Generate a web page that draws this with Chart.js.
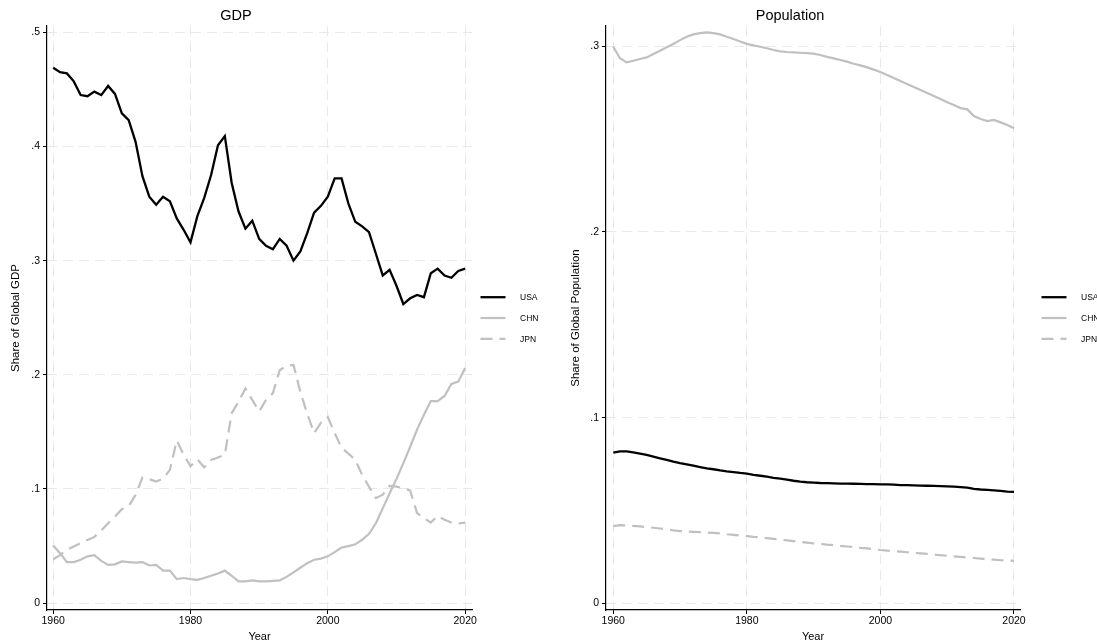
<!DOCTYPE html>
<html>
<head>
<meta charset="utf-8">
<script src="https://cdn.jsdelivr.net/npm/chart.js@4"></script>
<style>
  body { margin: 0; background: #fff; overflow: hidden; }
  #wrap { position: relative; width: 1097px; height: 641px; overflow: hidden; }
  canvas { position: absolute; top: 0; }
</style>
</head>
<body>
<div id="wrap">
  <canvas id="gdpChart" width="560" height="650" style="left:0"></canvas>
  <canvas id="popChart" width="537" height="650" style="left:560px"></canvas>
</div>
<script>
const years = [1960,1961,1962,1963,1964,1965,1966,1967,1968,1969,
  1970,1971,1972,1973,1974,1975,1976,1977,1978,1979,
  1980,1981,1982,1983,1984,1985,1986,1987,1988,1989,
  1990,1991,1992,1993,1994,1995,1996,1997,1998,1999,
  2000,2001,2002,2003,2004,2005,2006,2007,2008,2009,
  2010,2011,2012,2013,2014,2015,2016,2017,2018,2019,2020];

const countries = ['USA', 'CHN', 'JPN'];

// share of global GDP
const gdpUSA = [0.469,0.465,0.464,0.457,0.445,0.444,0.448,0.445,0.453,0.446,
  0.429,0.423,0.404,0.374,0.356,0.349,0.356,0.352,0.337,0.327,
  0.316,0.339,0.355,0.375,0.401,0.409,0.368,0.343,0.328,0.335,
  0.319,0.313,0.310,0.319,0.313,0.300,0.308,0.324,0.342,0.348,
  0.356,0.372,0.372,0.350,0.334,0.330,0.325,0.306,0.287,0.292,
  0.278,0.262,0.267,0.270,0.268,0.289,0.293,0.287,0.285,0.291,0.293];
const gdpCHN = [0.0505,0.0438,0.036,0.036,0.038,0.041,0.042,0.037,0.0335,0.034,
  0.0365,0.036,0.0355,0.036,0.033,0.0335,0.0285,0.0285,0.021,0.022,
  0.021,0.0204,0.022,0.024,0.026,0.0285,0.024,0.019,0.019,0.020,
  0.019,0.019,0.0195,0.020,0.023,0.027,0.031,0.035,0.038,0.039,
  0.041,0.0447,0.0487,0.050,0.0515,0.0555,0.0607,0.070,0.083,0.0963,
  0.1086,0.1226,0.137,0.152,0.165,0.177,0.177,0.1815,0.192,0.194,0.206];
const gdpJPN = [0.0385,0.042,0.0467,0.0496,0.0525,0.0554,0.058,0.0636,0.070,0.0758,
  0.0823,0.085,0.0948,0.110,0.1086,0.1065,0.109,0.1167,0.1424,0.130,
  0.120,0.126,0.119,0.1255,0.1275,0.130,0.1664,0.1765,0.188,0.178,
  0.168,0.178,0.184,0.204,0.208,0.2087,0.185,0.166,0.149,0.158,
  0.163,0.149,0.136,0.131,0.1255,0.1124,0.102,0.092,0.095,0.1027,
  0.102,0.1007,0.0986,0.0788,0.0744,0.0706,0.0764,0.073,0.0706,0.0697,0.0706];

// share of global population
const popUSA = [0.0811,0.0818,0.0818,0.0813,0.0806,0.0799,0.079,0.0781,0.0772,0.0763,
  0.0755,0.0748,0.0741,0.0734,0.0727,0.0722,0.0716,0.0711,0.0707,0.0702,
  0.0698,0.0692,0.0687,0.0682,0.0676,0.0671,0.0666,0.066,0.0655,0.0652,
  0.065,0.0648,0.0647,0.0646,0.0645,0.0645,0.0644,0.0643,0.0642,0.0642,
  0.0641,0.064,0.0639,0.0637,0.0636,0.0635,0.0634,0.0633,0.0632,0.0631,
  0.063,0.0628,0.0626,0.0623,0.0616,0.0613,0.0611,0.0608,0.0605,0.0602,0.060];
const popCHN = [0.2997,0.2935,0.2913,0.2922,0.2931,0.294,0.2958,0.2976,0.2994,0.3012,
  0.3033,0.3051,0.3064,0.3071,0.3075,0.3071,0.3064,0.3051,0.3039,0.3026,
  0.3013,0.3005,0.2997,0.2989,0.298,0.2972,0.2969,0.2967,0.2965,0.2963,
  0.296,0.2953,0.2943,0.2935,0.2926,0.2917,0.2906,0.2897,0.2886,0.2874,
  0.2861,0.2845,0.2829,0.2813,0.2796,0.278,0.2764,0.2748,0.2732,0.2716,
  0.2699,0.2683,0.2667,0.266,0.2624,0.2608,0.2597,0.2603,0.259,0.2576,0.2558];
const popJPN = [0.0416,0.0421,0.042,0.0417,0.0414,0.0411,0.0407,0.0403,0.0399,0.0393,
  0.0389,0.0387,0.0385,0.0383,0.0381,0.0379,0.0376,0.0372,0.0369,0.0365,
  0.0362,0.0358,0.0355,0.0351,0.0347,0.0343,0.0339,0.0335,0.0331,0.0327,
  0.0323,0.032,0.0316,0.0313,0.0309,0.0306,0.0303,0.0299,0.0296,0.0291,
  0.0287,0.0284,0.0281,0.0278,0.0275,0.0272,0.0269,0.0266,0.0263,0.0259,
  0.0256,0.0253,0.025,0.0247,0.0244,0.0241,0.0238,0.0235,0.0232,0.023,0.0229];

const xTicks = [1960, 1980, 2000, 2020];
const gdpTicks = [0, 0.1, 0.2, 0.3, 0.4, 0.5];
const popTicks = [0, 0.1, 0.2, 0.3];

const FONT = "'Liberation Sans', Arial, Helvetica, sans-serif";

function toPoints(vals) {
  return years.map((yr, i) => ({ x: yr, y: vals[i] }));
}

function makeDatasets(usa, chn, jpn) {
  return [
    { label: countries[0], data: toPoints(usa), borderColor: '#000000', borderWidth: 2.3 },
    { label: countries[1], data: toPoints(chn), borderColor: '#c0c0c0', borderWidth: 2.2 },
    { label: countries[2], data: toPoints(jpn), borderColor: '#c0c0c0', borderWidth: 2.2, borderDash: [12, 7] }
  ];
}

// stata-like legend sitting right of the plot region
const sideLegend = {
  id: 'sideLegend',
  afterDraw(chart, args, opts) {
    const ctx = chart.ctx;
    const area = chart.chartArea;
    const midY = (area.top + area.bottom) / 2;
    ctx.save();
    chart.data.datasets.forEach((ds, i) => {
      const y = midY + (i - 1) * 20.8;
      const x0 = area.right + opts.offset;
      ctx.beginPath();
      ctx.strokeStyle = ds.borderColor;
      ctx.lineWidth = ds.borderWidth;
      ctx.setLineDash(ds.borderDash || []);
      ctx.moveTo(x0, y);
      ctx.lineTo(x0 + 25, y);
      ctx.stroke();
      ctx.setLineDash([]);
      ctx.fillStyle = '#000';
      ctx.font = '8.5px ' + FONT;
      ctx.textBaseline = 'middle';
      ctx.fillText(ds.label, x0 + 39.5, y + 0.5);
    });
    ctx.restore();
  }
};

function fmtTick(v) {
  if (v === 0) return '0';
  return v.toFixed(1).replace(/^0/, '');
}

function renderPanel(canvasId, cfg) {
  const ctx = document.getElementById(canvasId).getContext('2d');
  return new Chart(ctx, {
    type: 'line',
    data: { datasets: cfg.datasets },
    plugins: [sideLegend],
    options: {
      responsive: false,
      animation: false,
      layout: { padding: { left: 0, top: 0, right: cfg.padRight, bottom: 0 } },
      elements: { point: { radius: 0 }, line: { tension: 0 } },
      plugins: {
        legend: { display: false },
        tooltip: { enabled: false },
        title: {
          display: true,
          text: cfg.title,
          color: '#000',
          font: { family: FONT, size: 14.5, weight: 'normal' },
          padding: { top: 7, bottom: 1.6 }
        },
        sideLegend: { offset: cfg.legendOffset }
      },
      scales: {
        x: {
          type: 'linear',
          min: cfg.xMin,
          max: cfg.xMax,
          afterBuildTicks: (s) => { s.ticks = xTicks.map(v => ({ value: v })); },
          afterFit: (s) => { s.height = 40; },
          ticks: {
            color: '#000',
            padding: 1,
            maxRotation: 0,
            font: { family: FONT, size: 10.5 },
            callback: (v) => String(v)
          },
          grid: {
            color: '#e9e9e9',
            lineWidth: 1,
            tickLength: 4,
            tickColor: '#000',
            tickWidth: 1,
            tickBorderDash: []
          },
          border: { display: true, color: '#000', width: 1.2, dash: [10, 6] },
          title: {
            display: true,
            text: 'Year',
            color: '#000',
            font: { family: FONT, size: 11 },
            padding: { top: 0, bottom: 6.5 }
          }
        },
        y: {
          type: 'linear',
          min: cfg.yMin,
          max: cfg.yMax,
          afterBuildTicks: (s) => { s.ticks = cfg.yTicks.map(v => ({ value: v })); },
          afterFit: (s) => { s.width = cfg.yWidth; },
          ticks: {
            color: '#000',
            padding: 3,
            font: { family: FONT, size: 10.5 },
            callback: fmtTick
          },
          grid: {
            color: '#e9e9e9',
            lineWidth: 1,
            tickLength: 4,
            tickColor: '#000',
            tickWidth: 1,
            tickBorderDash: []
          },
          border: { display: true, color: '#000', width: 1.2, dash: [10, 6] },
          title: {
            display: true,
            text: cfg.yTitle,
            color: '#000',
            font: { family: FONT, size: 11.5 },
            padding: { top: 9, bottom: 0 }
          }
        }
      }
    }
  });
}

renderPanel('gdpChart', {
  title: 'GDP',
  yTitle: 'Share of Global GDP',
  datasets: makeDatasets(gdpUSA, gdpCHN, gdpJPN),
  yTicks: gdpTicks,
  xMin: 1959.1, xMax: 2021.0,
  yMin: -0.006, yMax: 0.5055,
  yWidth: 47,
  padRight: 88,
  legendOffset: 8.5
});

renderPanel('popChart', {
  title: 'Population',
  yTitle: 'Share of Global Population',
  datasets: makeDatasets(popUSA, popCHN, popJPN),
  yTicks: popTicks,
  xMin: 1958.91, xMax: 2020.9,
  yMin: -0.0036, yMax: 0.3109,
  yWidth: 46,
  padRight: 77,
  legendOffset: 21.5
});
</script>
</body>
</html>
